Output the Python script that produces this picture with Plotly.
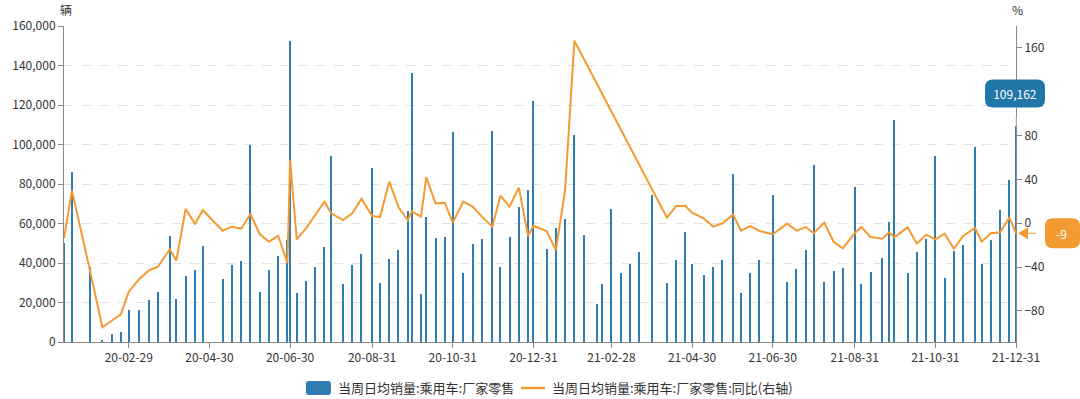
import plotly.graph_objects as go

# ---------------- data ----------------
dates = [
    "2020-01-11", "2020-01-17", "2020-01-31", "2020-02-09", "2020-02-16", "2020-02-23", "2020-02-29",
    "2020-03-08", "2020-03-15", "2020-03-22", "2020-03-31", "2020-04-05", "2020-04-12", "2020-04-19",
    "2020-04-25", "2020-05-10", "2020-05-17", "2020-05-24", "2020-05-31", "2020-06-07", "2020-06-14",
    "2020-06-21", "2020-06-28", "2020-06-30", "2020-07-05", "2020-07-12", "2020-07-19", "2020-07-26",
    "2020-07-31", "2020-08-09", "2020-08-16", "2020-08-23", "2020-08-31", "2020-09-06", "2020-09-13",
    "2020-09-20", "2020-09-27", "2020-09-30", "2020-10-07", "2020-10-11", "2020-10-18", "2020-10-25",
    "2020-10-31", "2020-11-08", "2020-11-15", "2020-11-22", "2020-11-30", "2020-12-06", "2020-12-13",
    "2020-12-20", "2020-12-27", "2020-12-31",
    "2021-01-10", "2021-01-17", "2021-01-24", "2021-01-31", "2021-02-07", "2021-02-17", "2021-02-21",
    "2021-02-28", "2021-03-07", "2021-03-14", "2021-03-21", "2021-03-31", "2021-04-11", "2021-04-18",
    "2021-04-25", "2021-04-30", "2021-05-09", "2021-05-16", "2021-05-23", "2021-05-31", "2021-06-06",
    "2021-06-13", "2021-06-20", "2021-06-30", "2021-07-11", "2021-07-18", "2021-07-25", "2021-07-31",
    "2021-08-08", "2021-08-15", "2021-08-22", "2021-08-31", "2021-09-05", "2021-09-12", "2021-09-21",
    "2021-09-26", "2021-09-30", "2021-10-10", "2021-10-17", "2021-10-24", "2021-10-31", "2021-11-07",
    "2021-11-14", "2021-11-21", "2021-11-30", "2021-12-05", "2021-12-12", "2021-12-19", "2021-12-26",
    "2021-12-31",
]

sales = [
    50000, 86200, 38100, 800, 3900, 5100, 16200,
    16000, 21300, 25500, 53700, 21600, 33200, 36600,
    48600, 31900, 39000, 41000, 99700, 25300, 36500,
    43500, 51600, 152400, 24600, 31000, 38100, 48300,
    94300, 29500, 38800, 44600, 88300, 29900, 42200,
    46400, 66300, 136400, 24300, 63300, 52800, 53000,
    106500, 34800, 49600, 52200, 106800, 38100, 53000,
    68200, 77000, 121900,
    46900, 57600, 62400, 105000, 54000, 19100, 29200,
    67200, 34800, 39700, 45400, 74400, 30000, 41700,
    55500, 39700, 33900, 37800, 41700, 85200, 25000,
    34800, 41500, 74300, 30400, 37000, 46700, 89500,
    30400, 35900, 37300, 78600, 29200, 35600, 42500,
    60900, 112400, 35100, 45600, 52200, 94200, 32600,
    46200, 48900, 98900, 39500, 51600, 66700, 82000,
    109162,
]

yoy = [
    -13.7, 29.8, -45.0, -94.9, -88.9, -83.0, -62.4,
    -50.8, -43.2, -39.6, -23.7, -34.1, 13.3, -0.4,
    11.9, -6.8, -3.1, -4.9, 8.5, -9.8, -16.8,
    -11.3, -36.5, 57.8, -14.6, -4.6, 7.6, 19.7,
    9.1, 3.0, 9.1, 22.5, 6.7, 5.7, 38.0,
    14.6, 3.0, 10.9, 6.0, 42.0, 18.2, 18.8,
    0.6, 19.7, 15.2, 6.1, -3.1, 25.2, 15.2,
    32.5, -11.6, -2.2,
    -7.0, -24.4, 30.4, 166.6, None, None, None,
    None, None, None, None, None, 5.1, 15.8,
    15.8, 9.7, 4.2, -3.1, 0.0, 7.9, -6.7,
    -2.5, -7.0, -10.0, -0.3, -6.7, -3.4, -9.1,
    0.6, -16.8, -22.8, -9.1, -3.4, -12.5, -14.0,
    -8.2, -12.8, -3.7, -18.6, -10.4, -14.6, -9.5,
    -23.2, -11.6, -4.3, -16.8, -9.1, -8.2, 5.5,
    -9.1,
]

tick_dates = ["2020-02-29", "2020-04-30", "2020-06-30", "2020-08-31", "2020-10-31", "2020-12-31",
              "2021-02-28", "2021-04-30", "2021-06-30", "2021-08-31", "2021-10-31", "2021-12-31"]
left_range = [0, 160000]
left_ticks = [0, 20000, 40000, 60000, 80000, 100000, 120000, 140000, 160000]
right_range = [-108.3, 180]
right_ticks = [-80, -40, 0, 40, 80, 120, 160]

name_bar = "当周日均销量:乘用车:厂家零售"
name_line = "当周日均销量:乘用车:厂家零售:同比(右轴)"

# ---------------- style ----------------
BLUE = "#2f7db2"
BADGE_BLUE = "#2176a8"
ORANGE = "#f39a33"
AXIS = "#8a8a8a"
TXT = "#333333"
FONT = "Noto Sans CJK SC"
DAY_MS = 86400000

W, H = 1080, 399
ML, MR, MT, MB = 60, 64, 26, 57
PW, PH = W - ML - MR, H - MT - MB


def px(x):  # pixel x -> paper
    return (x - ML) / PW


def py(y):  # pixel y -> paper
    return (H - MB - y) / PH


fig = go.Figure()
fig.add_bar(x=dates, y=sales, name=name_bar, marker=dict(color=BLUE, line=dict(width=0)),
            width=DAY_MS * 0.8, yaxis="y")
fig.add_scatter(x=dates, y=yoy, name=name_line, mode="lines", connectgaps=True,
                line=dict(color=ORANGE, width=2), yaxis="y2")


def rrect(x0, y0, x1, y1, r):
    # rounded rectangle path in pixel offsets (y up)
    return (f"M {x0+r},{y0} L {x1-r},{y0} Q {x1},{y0} {x1},{y0+r} L {x1},{y1-r} "
            f"Q {x1},{y1} {x1-r},{y1} L {x0+r},{y1} Q {x0},{y1} {x0},{y1-r} "
            f"L {x0},{y0+r} Q {x0},{y0} {x0+r},{y0} Z")


last_bar, last_yoy = sales[-1], yoy[-1]
bar_frac = (last_bar - left_range[0]) / (left_range[1] - left_range[0])
yoy_frac = (last_yoy - right_range[0]) / (right_range[1] - right_range[0])

common_bar = dict(xref="x domain", yref="y domain", xsizemode="pixel", ysizemode="pixel",
                  xanchor=1, yanchor=bar_frac)
common_yoy = dict(xref="x domain", yref="y domain", xsizemode="pixel", ysizemode="pixel",
                  xanchor=1, yanchor=yoy_frac)

LEG_Y = 388
leg_common = dict(xref="paper", yref="paper", xsizemode="pixel", ysizemode="pixel")

shapes = [
    # value badge for last bar
    dict(type="line", x0=0, x1=0, y0=0, y1=19, line=dict(color="#d0d0d0", width=1, dash="dash"),
         **common_bar),
    dict(type="path", path=rrect(-31, 19, 29, 47, 8), fillcolor=BADGE_BLUE, line=dict(width=0),
         **common_bar),
    # value badge for last yoy point
    dict(type="line", x0=11, x1=30, y0=0, y1=0, line=dict(color=ORANGE, width=1, dash="dash"),
         **common_yoy),
    dict(type="path", path="M 2,0 L 12,6 L 12,-6 Z", fillcolor=ORANGE, line=dict(width=0),
         **common_yoy),
    dict(type="path", path=rrect(29, -15, 64, 15, 8), fillcolor=ORANGE, line=dict(width=0),
         **common_yoy),
    # legend symbols
    dict(type="path", path=rrect(-12.5, -7, 12.5, 7, 3), fillcolor=BLUE, line=dict(width=0),
         xanchor=px(315.5), yanchor=py(LEG_Y), **leg_common),
    dict(type="line", x0=-12, x1=12, y0=0, y1=0, line=dict(color=ORANGE, width=2.5),
         xanchor=px(531), yanchor=py(LEG_Y), **leg_common),
]

annotations = [
    dict(x=1, y=bar_frac, xref="x domain", yref="y domain", text=f"{last_bar:,.0f}", showarrow=False,
         xanchor="center", yanchor="middle", xshift=-1, yshift=33, width=54, height=20,
         bgcolor=BADGE_BLUE, borderpad=0, font=dict(color="white", size=12, family=FONT)),
    dict(x=1, y=yoy_frac, xref="x domain", yref="y domain", text=f"{last_yoy:.0f}", showarrow=False,
         xanchor="center", yanchor="middle", xshift=45, yshift=0,
         font=dict(color="white", size=12, family=FONT)),
    dict(x=0, y=1, xref="paper", yref="paper", text="辆", showarrow=False, xanchor="center",
         yanchor="middle", xshift=2, yshift=17, font=dict(color=TXT, size=12, family=FONT)),
    dict(x=1, y=1, xref="paper", yref="paper", text="%", showarrow=False, xanchor="center",
         yanchor="middle", xshift=1, yshift=17, font=dict(color=TXT, size=12, family=FONT)),
    # legend texts
    dict(x=px(333), y=py(LEG_Y), xref="paper", yref="paper", text=name_bar, showarrow=False,
         xanchor="left", yanchor="middle", font=dict(color=TXT, size=13, family=FONT)),
    dict(x=px(548), y=py(LEG_Y), xref="paper", yref="paper", text=name_line, showarrow=False,
         xanchor="left", yanchor="middle", font=dict(color=TXT, size=13, family=FONT)),
]

fig.update_layout(
    width=W, height=H,
    margin=dict(l=ML, r=MR, t=MT, b=MB, pad=0),
    paper_bgcolor="white", plot_bgcolor="white",
    font=dict(family=FONT, size=12, color=TXT),
    bargap=0,
    showlegend=False,
    xaxis=dict(type="date", range=[dates[0], dates[-1]], tickvals=tick_dates, tickformat="%y-%m-%d",
               ticks="outside", ticklen=5, tickcolor=AXIS, showline=True, linecolor=AXIS, linewidth=1,
               showgrid=False, zeroline=False, tickfont=dict(size=12, color=TXT)),
    yaxis=dict(range=left_range, tickvals=left_ticks, tickformat=",d", ticks="outside", ticklen=5,
               tickcolor=AXIS, showline=True, linecolor=AXIS, linewidth=1, showgrid=True,
               gridcolor="#e2e2e2", griddash="dash", gridwidth=1, zeroline=False,
               tickfont=dict(size=12, color=TXT)),
    yaxis2=dict(overlaying="y", side="right", range=right_range, tickvals=right_ticks,
                ticks="outside", ticklen=5, tickcolor=AXIS, showline=True, linecolor=AXIS, linewidth=1,
                showgrid=False, zeroline=False, tickfont=dict(size=12, color=TXT)),
    shapes=shapes,
    annotations=annotations,
)

fig.write_html("out.html", config={"displayModeBar": False},
               post_script="document.body.style.margin='0';")
